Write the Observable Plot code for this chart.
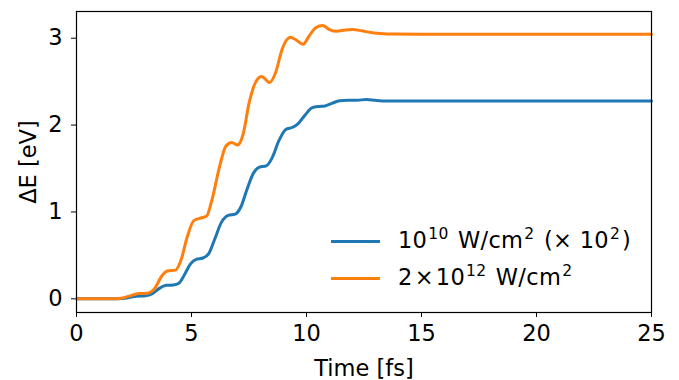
<!DOCTYPE html>
<html>
<head>
<meta charset="utf-8">
<script src="https://cdn.jsdelivr.net/npm/d3@7"></script>
<script src="https://cdn.jsdelivr.net/npm/@observablehq/plot@0.6"></script>
<style>
  html, body { margin: 0; padding: 0; background: #fff; }
  #wrap { position: relative; width: 679px; height: 380px; font-family: "DejaVu Sans", sans-serif; }
  .leg { position: absolute; left: 331px; font-size: 22.5px; line-height: 26px; color: #000; display: flex; align-items: center; white-space: nowrap; letter-spacing: 0.3px; }
  .leg .sw { display: inline-block; width: 49px; height: 3px; margin-right: 18px; }
  .leg sup { font-size: 15.5px; vertical-align: 0; position: relative; top: -9px; margin: 0 2px 0 1px; }
  .leg .op { margin: 0 2px; }
</style>
</head>
<body>
<div id="wrap"></div>
<script>
const seriesNames = ["10^10 W/cm^2 (× 10^2)", "2×10^12 W/cm^2"];
const seriesColors = ["#1f77b4", "#ff7f0e"];

const blueT = [0, 1.0, 1.8, 2.2, 2.6, 3.0, 3.3, 3.6, 3.9, 4.2, 4.45, 4.7, 4.95, 5.2, 5.5, 5.75, 6.0, 6.3, 6.6, 6.9, 7.15, 7.4, 7.7, 7.95, 8.25, 8.5, 8.8, 9.1, 9.4, 9.65, 9.95, 10.25, 10.55, 10.8, 11.1, 11.45, 11.8, 12.2, 12.6, 13.0, 13.5, 14, 25];
const blueE = [0, 0, 0.002, 0.01, 0.03, 0.035, 0.06, 0.12, 0.155, 0.16, 0.18, 0.28, 0.40, 0.455, 0.47, 0.52, 0.68, 0.88, 0.96, 0.975, 1.06, 1.25, 1.45, 1.515, 1.53, 1.62, 1.82, 1.95, 1.975, 2.02, 2.12, 2.20, 2.215, 2.22, 2.25, 2.28, 2.285, 2.285, 2.295, 2.285, 2.278, 2.278, 2.278];

const orangeT = [0, 1.5, 2.0, 2.4, 2.7, 3.1, 3.4, 3.7, 3.95, 4.3, 4.55, 4.8, 5.1, 5.4, 5.65, 5.9, 6.2, 6.5, 6.75, 7.0, 7.25, 7.5, 7.8, 8.05, 8.4, 8.65, 8.95, 9.3, 9.55, 9.85, 10.1, 10.4, 10.7, 11.0, 11.3, 11.7, 12.0, 12.4, 12.8, 13.2, 13.8, 15, 25];
const orangeE = [0, 0, 0.01, 0.04, 0.06, 0.065, 0.12, 0.26, 0.32, 0.33, 0.45, 0.70, 0.90, 0.93, 0.95, 1.15, 1.50, 1.76, 1.80, 1.77, 1.90, 2.25, 2.50, 2.56, 2.49, 2.60, 2.88, 3.01, 2.98, 2.93, 3.02, 3.12, 3.145, 3.10, 3.08, 3.095, 3.10, 3.085, 3.065, 3.055, 3.048, 3.045, 3.045];

const xTicks = [0, 5, 10, 15, 20, 25];
const yTicks = [0, 1, 2, 3];

const blue = blueT.map((t, i) => ({t, e: blueE[i], s: seriesNames[0]}));
const orange = orangeT.map((t, i) => ({t, e: orangeE[i], s: seriesNames[1]}));

const chart = Plot.plot({
  width: 679,
  height: 380,
  marginLeft: 76,
  marginRight: 28,
  marginTop: 11,
  marginBottom: 68,
  style: {fontFamily: "DejaVu Sans, sans-serif", fontSize: "22.5px", background: "#fff", color: "#000"},
  x: {domain: [0, 25], ticks: xTicks, tickFormat: d3.format("d"), tickSize: 5, tickPadding: 8, label: "Time [fs]", labelAnchor: "center", labelOffset: 63, labelArrow: "none"},
  y: {domain: [-0.1575, 3.3075], ticks: yTicks, tickFormat: d3.format("d"), tickSize: 5, tickPadding: 9, label: "ΔE [eV]", labelAnchor: "center", labelOffset: 56, labelArrow: "none"},
  marks: [
    Plot.line(blue, {x: "t", y: "e", stroke: seriesColors[0], strokeWidth: 3, curve: "monotone-x"}),
    Plot.line(orange, {x: "t", y: "e", stroke: seriesColors[1], strokeWidth: 3, curve: "monotone-x"}),
    Plot.frame({stroke: "#000", strokeWidth: 1.2})
  ]
});
const wrap = document.getElementById("wrap");
wrap.appendChild(chart);

function legItem(top, color, html) {
  const d = document.createElement("div");
  d.className = "leg";
  d.style.top = top + "px";
  d.innerHTML = `<span class="sw" style="background:${color}"></span><span>${html}</span>`;
  wrap.appendChild(d);
}
legItem(227, seriesColors[0], "10<sup>10</sup> W/cm<sup>2</sup> (× 10<sup>2</sup>)");
legItem(264, seriesColors[1], "2<span class=\"op\">×</span>10<sup>12</sup> W/cm<sup>2</sup>");
</script>
</body>
</html>
